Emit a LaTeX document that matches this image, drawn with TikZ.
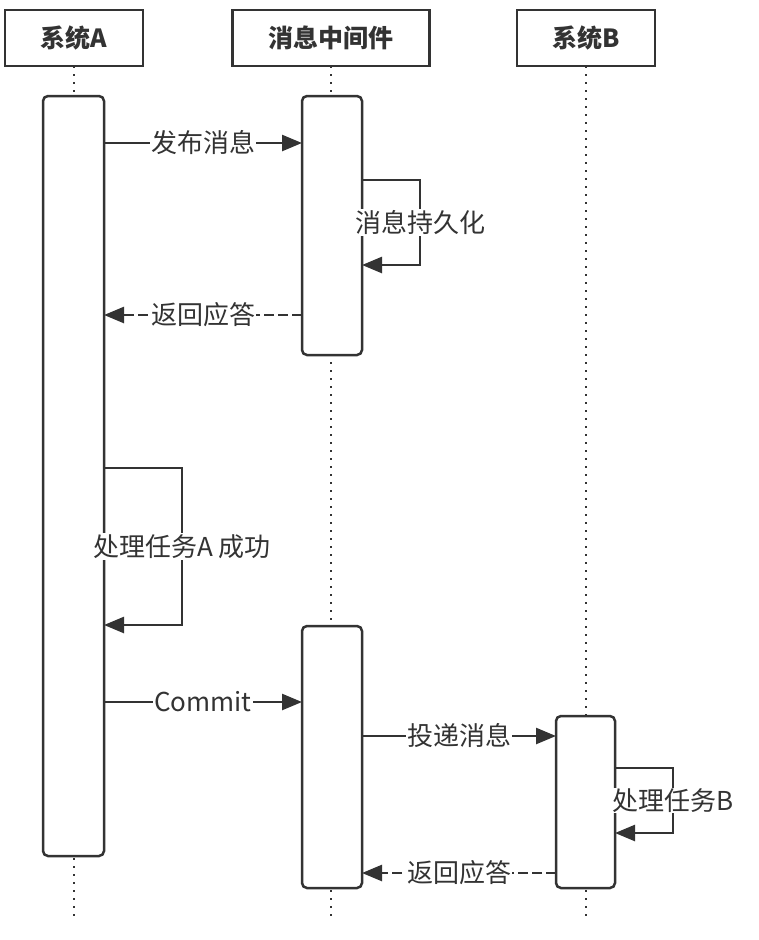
\documentclass[tikz,border=0pt]{standalone}
\usepackage{fontspec}
\setmainfont{Noto Sans CJK SC}
\usetikzlibrary{arrows.meta}
\definecolor{ln}{HTML}{333333}
\begin{document}
\begin{tikzpicture}[x=1pt,y=-1pt,
  hdr/.style={draw=ln,line width=2.5pt,fill=white,minimum width=138pt,minimum height=56pt,font=\fontsize{25}{27}\selectfont\bfseries,text=ln},
  act/.style={draw=ln,line width=2.5pt,fill=white,rounded corners=5pt},
  life/.style={ln,line width=2.5pt,dash pattern=on 2pt off 6pt},
  msg/.style={ln,line width=2.5pt,-{Triangle[length=20pt,width=16pt]}},
  ret/.style={msg,dash pattern=on 10pt off 4pt},
  lbl/.style={fill=white,inner sep=1pt,font=\fontsize{26}{28}\selectfont,text=ln}]
\useasboundingbox (0,0) rectangle (758,940);
\draw[life] (74,66) -- (74,920);
\draw[life] (331,66) -- (331,920);
\draw[life] (586,66) -- (586,920);
\node[hdr] (ha) at (74,38) {系统A};
\node[hdr,minimum width=197pt] (hm) at (331,38) {消息中间件};
\node[hdr] (hb) at (586,38) {系统B};
\draw[act] (43,96) rectangle (104,856);
\draw[act] (302,96) rectangle (362,355);
\draw[act] (302,626) rectangle (362,888);
\draw[act] (556,716) rectangle (615,888);
\coordinate (a1) at (104,143); \coordinate (m1) at (302,143);
\draw[msg] (a1) -- node[lbl]{发布消息} (m1);
\coordinate (l1) at (362,180); \coordinate (l1e) at (362,265);
\draw[msg] (l1) -- (420,180) -- node[lbl]{消息持久化} (420,265) -- (l1e);
\coordinate (m2) at (302,315); \coordinate (a2) at (104,315);
\draw[ret] (m2) -- node[lbl]{返回应答} (a2);
\coordinate (l2) at (104,468); \coordinate (l2e) at (104,625);
\draw[msg] (l2) -- (182,468) -- node[lbl]{处理任务A 成功} (182,625) -- (l2e);
\coordinate (a3) at (104,702); \coordinate (m3) at (302,702);
\draw[msg] (a3) -- node[lbl]{Commit} (m3);
\coordinate (m4) at (362,736); \coordinate (b4) at (556,736);
\draw[msg] (m4) -- node[lbl]{投递消息} (b4);
\coordinate (l3) at (615,768); \coordinate (l3e) at (615,833);
\draw[msg] (l3) -- (673,768) -- node[lbl]{处理任务B} (673,833) -- (l3e);
\coordinate (b5) at (556,873); \coordinate (m5) at (362,873);
\draw[ret] (b5) -- node[lbl]{返回应答} (m5);
\end{tikzpicture}
\end{document}
